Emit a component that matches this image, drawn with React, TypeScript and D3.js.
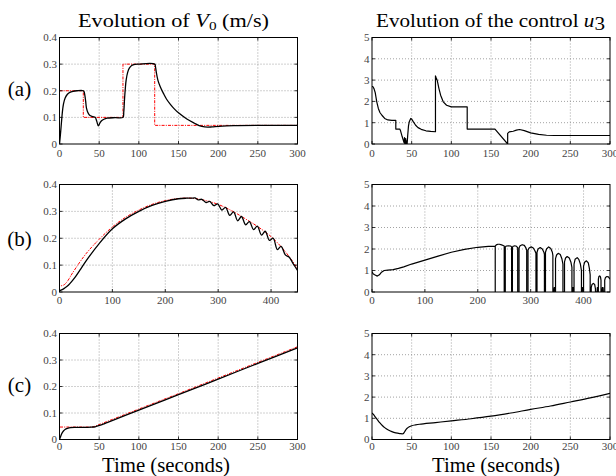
import * as d3 from 'd3';

type Pt = [number, number];

// ---- ticks ----
const T300 = [0, 50, 100, 150, 200, 250, 300];
const T450 = [0, 100, 200, 300, 400];
const V_TICKS = [0, 0.1, 0.2, 0.3, 0.4];
const U_TICKS = [0, 1, 2, 3, 4, 5];
const ROW_LABELS = ['(a)', '(b)', '(c)'];

// ---- row (a) ----
const V0_A_REF: Pt[] = [[0, 0.2], [30, 0.2], [30, 0.1], [80, 0.1], [80, 0.3], [120, 0.3], [120, 0.07], [300, 0.07]];
const V0_A: Pt[] = [
  [0, 0], [1, 0.03], [2, 0.065], [3, 0.1], [4, 0.13], [5, 0.15], [7, 0.172], [10, 0.187], [13, 0.194], [17, 0.198],
  [22, 0.2], [30, 0.2], [31, 0.196], [32, 0.182], [33, 0.16], [34, 0.135], [36, 0.117], [38, 0.108], [42, 0.103],
  [45, 0.1], [47, 0.085], [49, 0.068], [51, 0.079], [53, 0.087], [56, 0.093], [60, 0.097], [70, 0.099], [80, 0.1],
  [81, 0.12], [82, 0.17], [83, 0.21], [84, 0.24], [86, 0.27], [88, 0.285], [91, 0.295], [95, 0.299], [100, 0.3],
  [120, 0.3], [121, 0.29], [122, 0.27], [124, 0.24], [127, 0.215], [131, 0.19], [135, 0.168], [140, 0.148],
  [145, 0.131], [150, 0.117], [160, 0.095], [170, 0.078], [176, 0.069], [183, 0.064], [192, 0.064], [200, 0.066],
  [220, 0.069], [300, 0.07],
];
const U3_A: Pt[] = [
  [0, 2.7], [1, 2.7], [2.5, 2.6], [4, 2.42], [5, 2.2], [6, 1.98], [8, 1.67], [10, 1.48], [12.5, 1.35], [16, 1.2],
  [20, 1.13], [25, 1.11], [30, 1.11], [30, 0.7], [35, 0.7], [36, 0.62], [38, 0.35], [40.5, 0.05], [41, 0.3],
  [41.5, 0], [42.5, 0.25], [43, 0], [43.8, 0.15], [44.3, 0], [45, 0.4], [46, 0.85], [47, 1.05], [48.8, 1.2],
  [50, 1.17], [52, 1.05], [55, 0.88], [58, 0.77], [62, 0.69], [68, 0.62], [74, 0.59], [80, 0.575], [80, 3.2],
  [81, 3.1], [82.3, 2.98], [84.4, 2.6], [86.5, 2.29], [89.8, 1.98], [94, 1.82], [100, 1.74], [120, 1.74],
  [120, 0.7], [155, 0.7], [171, 0], [171, 0.5], [173, 0.57], [178, 0.6], [182, 0.65], [186, 0.68], [192, 0.63],
  [200, 0.52], [210, 0.45], [220, 0.41], [230, 0.4], [300, 0.4],
];

// ---- row (b) ----
const V0_B_REF: Pt[] = [
  [0, 0.2], [0, 0.025], [8, 0.026], [15, 0.04], [25, 0.072], [50, 0.142], [75, 0.196], [100, 0.242], [125, 0.278],
  [150, 0.305], [175, 0.326], [200, 0.34], [225, 0.348], [250, 0.349], [275, 0.341], [300, 0.326], [325, 0.303],
  [350, 0.274], [375, 0.243], [400, 0.206], [425, 0.155], [450, 0.088],
];
const V0_B: Pt[] = [
  [0, 0.005], [5, 0.009], [10, 0.015], [15, 0.022], [20, 0.032], [30, 0.056], [40, 0.085], [50, 0.115], [75, 0.18],
  [100, 0.235], [125, 0.272], [150, 0.3], [175, 0.322], [200, 0.337], [225, 0.347], [240, 0.349], [250, 0.349],
  [256, 0.35], [262, 0.343], [269, 0.345], [277, 0.333], [284, 0.337], [292, 0.321], [299, 0.328], [307, 0.305],
  [314, 0.315], [322, 0.285], [329, 0.298], [337, 0.265], [344, 0.281], [352, 0.25], [359, 0.262], [367, 0.232],
  [374, 0.245], [382, 0.212], [389, 0.226], [397, 0.192], [404, 0.2], [412, 0.158], [419, 0.17], [427, 0.138],
  [434, 0.13], [442, 0.105], [450, 0.08],
];
const U3_B: Pt[] = [
  [0, 0.95], [2, 0.85], [5, 0.8], [10, 0.74], [14, 0.8], [18, 0.92], [23, 1.0], [30, 1.02], [40, 1.04], [50, 1.1],
  [60, 1.17], [75, 1.3], [100, 1.48], [125, 1.67], [150, 1.85], [175, 1.98], [200, 2.08], [220, 2.12], [233, 2.13],
  [233, 0], [233, 2.13], [235, 2.19], [238, 2.22], [241, 2.22], [245, 2.19], [248, 2.16], [250, 2.14], [250, 0], [252, 0],
  [252, 2.1], [254, 2.14], [258, 2.15], [262, 2.14], [264, 2.1], [264, 0], [265.5, 0],
  [265.5, 2.08], [267, 2.13], [270, 2.15], [273, 2.13], [275.5, 2.05], [275.5, 0], [278, 0],
  [278, 2.05], [280, 2.15], [284, 2.2], [288, 2.17], [291, 2.05], [292.5, 1.95], [292.5, 0], [295, 0],
  [295, 1.95], [297, 2.05], [301, 2.1], [305, 2.05], [308, 1.92], [310, 1.8], [310, 0], [312, 0],
  [312, 1.85], [314, 2.0], [318, 2.07], [322, 2.0], [325, 1.85], [326, 1.75], [326, 0], [328, 0],
  [328, 1.85], [330, 2.0], [334, 2.1], [338, 2.02], [341, 1.85], [342, 1.7], [342, 0], [344, 0], [344.5, 0.2],
  [346, 0.2], [346.5, 0], [347, 0],
  [347, 1.55], [349, 1.72], [352, 1.8], [356, 1.74], [359, 1.55], [361, 1.3], [361, 0], [364, 0],
  [364, 1.4], [366, 1.58], [369, 1.65], [373, 1.58], [376, 1.4], [378, 1.15], [378, 0], [379, 0], [379.5, 0.2],
  [381, 0.2], [381.5, 0], [382, 0],
  [382, 1.3], [384, 1.52], [388, 1.6], [391, 1.52], [394, 1.3], [396, 1.0], [396, 0], [397.5, 0], [398, 0.2],
  [399.5, 0.2], [400, 0],
  [400, 1.2], [402, 1.38], [405.5, 1.45], [409, 1.35], [411, 1.1], [412.5, 0.8], [412.5, 0], [414.5, 0],
  [414.5, 0.2], [416, 0.35], [418.5, 0.4], [421, 0.35], [422.5, 0.15], [422.5, 0], [425.5, 0], [426, 0.2],
  [427, 0.2], [427.5, 0], [428, 0],
  [428, 0.6], [429, 0.72], [430.5, 0.75], [432, 0.7], [433, 0.55], [433, 0], [435, 0], [435.5, 0.2], [437, 0.2],
  [437.5, 0], [440, 0],
  [440, 0.55], [441.5, 0.68], [444, 0.72], [447, 0.7], [450, 0.6],
];

// ---- row (c) ----
const V0_C_REF: Pt[] = [[0, 0.19], [0, 0.047], [42, 0.047], [100, 0.115], [150, 0.173], [200, 0.232], [250, 0.291], [300, 0.35]];
const V0_C: Pt[] = [
  [0, 0], [1, 0.008], [2, 0.016], [3, 0.023], [5, 0.032], [7, 0.038], [10, 0.042], [14, 0.045], [20, 0.046],
  [30, 0.046], [40, 0.047], [45, 0.048], [50, 0.053], [55, 0.058], [60, 0.064], [100, 0.111], [150, 0.169],
  [200, 0.228], [250, 0.287], [300, 0.346],
];
const U3_C: Pt[] = [
  [0, 1.25], [2, 1.17], [4, 1.07], [6, 0.97], [8, 0.87], [10, 0.78], [13, 0.66], [16, 0.56], [20, 0.46], [25, 0.37],
  [30, 0.31], [35, 0.28], [39, 0.27], [40, 0.3], [42, 0.42], [44, 0.52], [47, 0.6], [50, 0.65], [55, 0.69],
  [60, 0.72], [80, 0.8], [100, 0.88], [125, 0.98], [150, 1.1], [175, 1.25], [200, 1.42], [225, 1.58], [250, 1.77],
  [275, 1.96], [300, 2.18],
];

const SERIF = { fontFamily: 'Liberation Serif, Tinos, Times New Roman, Times, serif' };

type Series = { data: Pt[]; color: string; dash?: string; width: number; smooth: boolean };

type PanelProps = {
  id: string;
  x0: number; x1: number; y0: number; y1: number;
  xMax: number; xTicks: number[];
  yMax: number; yTicks: number[];
  labelGap: number;
  series: Series[];
};

function Panel({ id, x0, x1, y0, y1, xMax, xTicks, yMax, yTicks, labelGap, series }: PanelProps) {
  const x = d3.scaleLinear().domain([0, xMax]).range([x0, x1]);
  const y = d3.scaleLinear().domain([0, yMax]).range([y1, y0]);
  const tick = 3;
  const fmt = (v: number) => (v === 0 ? '0' : String(+v.toFixed(2)));

  return (
    <g>
      <defs>
        <clipPath id={id}>
          <rect x={x0} y={y0} width={x1 - x0} height={y1 - y0} />
        </clipPath>
      </defs>
      {/* dotted grid */}
      <g stroke="#8a8a8a" strokeWidth={0.8} strokeDasharray="1,2">
        {xTicks.filter(t => t > 0 && t < xMax).map(t => (
          <line key={'gx' + t} x1={x(t)} x2={x(t)} y1={y0} y2={y1} />
        ))}
        {yTicks.filter(t => t > 0 && t < yMax).map(t => (
          <line key={'gy' + t} x1={x0} x2={x1} y1={y(t)} y2={y(t)} />
        ))}
      </g>
      <g clipPath={`url(#${id})`} fill="none">
        {series.map((s, i) => {
          const line = d3.line<Pt>()
            .x(d => x(d[0]))
            .y(d => y(d[1]))
            .curve(s.smooth ? d3.curveCatmullRom.alpha(0.5) : d3.curveLinear);
          return (
            <path key={i} d={line(s.data) || ''} stroke={s.color} strokeWidth={s.width}
              strokeDasharray={s.dash} strokeLinejoin="round" />
          );
        })}
      </g>
      {/* box with inward ticks */}
      <rect x={x0} y={y0} width={x1 - x0} height={y1 - y0} fill="none" stroke="#000" strokeWidth={1} />
      <g stroke="#000" strokeWidth={0.8}>
        {xTicks.map(t => (
          <g key={'tx' + t}>
            <line x1={x(t)} x2={x(t)} y1={y1} y2={y1 - tick} />
            <line x1={x(t)} x2={x(t)} y1={y0} y2={y0 + tick} />
          </g>
        ))}
        {yTicks.map(t => (
          <g key={'ty' + t}>
            <line x1={x0} x2={x0 + tick} y1={y(t)} y2={y(t)} />
            <line x1={x1} x2={x1 - tick} y1={y(t)} y2={y(t)} />
          </g>
        ))}
      </g>
      <g style={SERIF} fontSize={11} fill="#444">
        {xTicks.map(t => (
          <text key={'lx' + t} x={x(t)} y={y1 + labelGap} textAnchor="middle">{fmt(t)}</text>
        ))}
        {yTicks.map(t => (
          <text key={'ly' + t} x={x0 - 2.5} y={y(t) + 3.8} textAnchor="end">{fmt(t)}</text>
        ))}
      </g>
    </g>
  );
}

const ROWS = [
  { top: 37.5, bottom: 144, xMax: 300, xTicks: T300, ref: V0_A_REF, v: V0_A, u: U3_A, label: 95.5, gap: 12.7 },
  { top: 184.5, bottom: 292, xMax: 450, xTicks: T450, ref: V0_B_REF, v: V0_B, u: U3_B, label: 245.5, gap: 11.6 },
  { top: 333.5, bottom: 439.5, xMax: 300, xTicks: T300, ref: V0_C_REF, v: V0_C, u: U3_C, label: 391.5, gap: 10.8 },
];

export default function App() {
  return (
    <svg width={616} height={476} style={{ position: 'absolute', left: 0, top: 0, background: '#fff' }}>
      <rect width={616} height={476} fill="#fff" />
      <text x={173.5} y={26.7} style={SERIF} fontSize={19} textAnchor="middle" textLength={191} lengthAdjust="spacingAndGlyphs">
        Evolution of <tspan fontStyle="italic">V</tspan><tspan fontSize={13} dy={3}>0</tspan><tspan dy={-3}> (m/s)</tspan>
      </text>
      <text x={490.5} y={26.7} style={SERIF} fontSize={19} textAnchor="middle" textLength={229} lengthAdjust="spacingAndGlyphs">
        Evolution of the control <tspan fontStyle="italic">u</tspan><tspan dy={3}>3</tspan>
      </text>
      {ROWS.map((r, i) => (
        <g key={i}>
          <text x={19.5} y={r.label} style={SERIF} fontSize={21} textAnchor="middle">{ROW_LABELS[i]}</text>
          <Panel id={'cl' + i} x0={59.5} x1={297.5} y0={r.top} y1={r.bottom} xMax={r.xMax} xTicks={r.xTicks}
            yMax={0.4} yTicks={V_TICKS} labelGap={r.gap}
            series={[
              { data: r.ref, color: '#ff0000', dash: '3,1.2,1,1.2', width: 1, smooth: i === 1 },
              { data: r.v, color: '#000', width: 1.3, smooth: true },
            ]} />
          <Panel id={'cr' + i} x0={372} x1={610} y0={r.top} y1={r.bottom} xMax={r.xMax} xTicks={r.xTicks}
            yMax={5} yTicks={U_TICKS} labelGap={r.gap}
            series={[{ data: r.u, color: '#000', width: 1.2, smooth: i === 2 }]} />
        </g>
      ))}
      <text x={166} y={471.5} style={SERIF} fontSize={21} textAnchor="middle" textLength={128} lengthAdjust="spacingAndGlyphs">Time (seconds)</text>
      <text x={496} y={471.5} style={SERIF} fontSize={21} textAnchor="middle" textLength={128} lengthAdjust="spacingAndGlyphs">Time (seconds)</text>
    </svg>
  );
}
